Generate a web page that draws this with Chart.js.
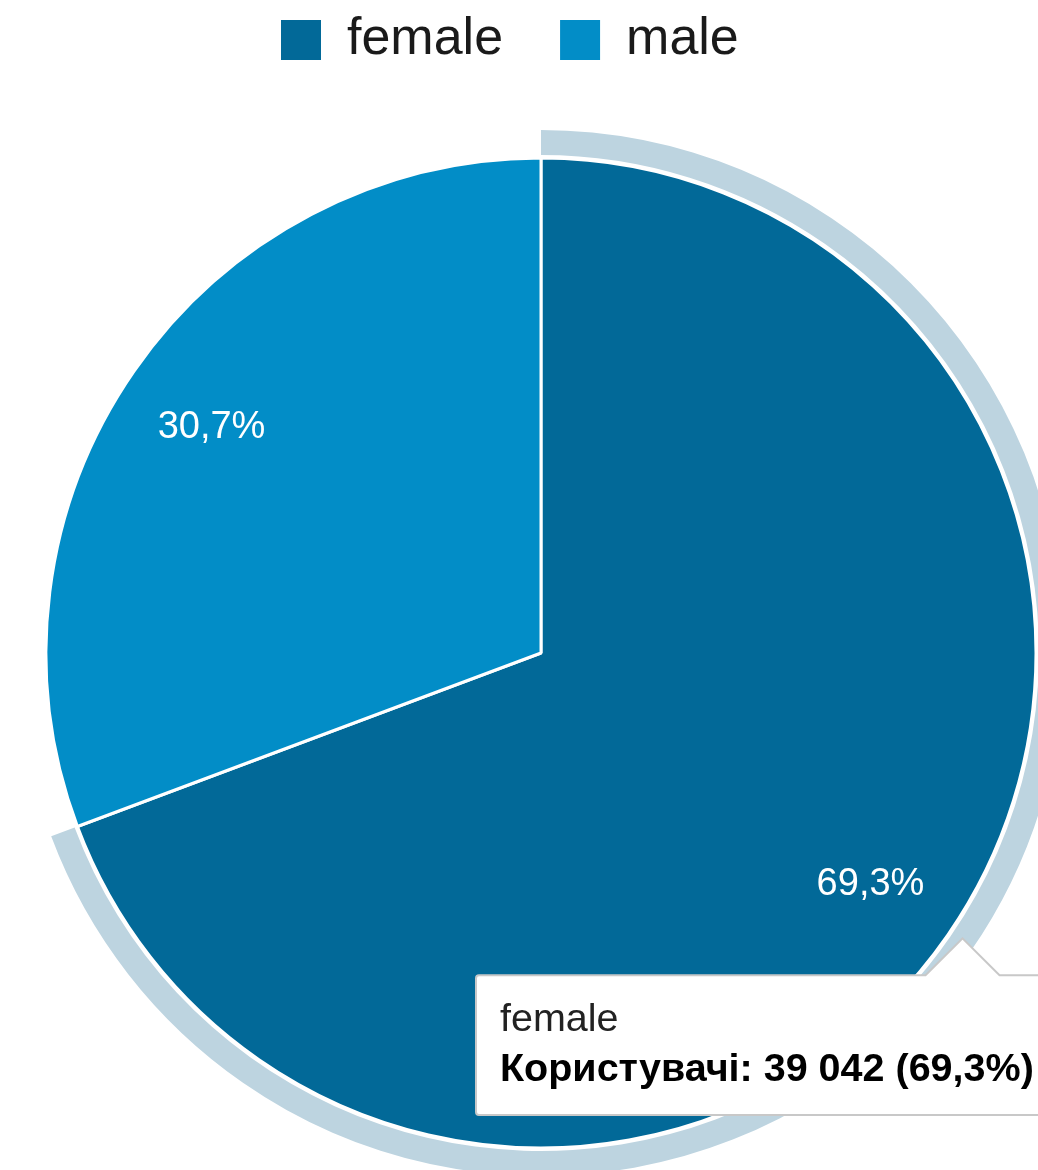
<!DOCTYPE html>
<html>
<head>
<meta charset="utf-8">
<script src="https://cdn.jsdelivr.net/npm/chart.js@4/dist/chart.umd.min.js"></script>
<style>
  html, body { margin: 0; padding: 0; background: #fff; overflow: hidden; }
  #wrap { position: absolute; left: 0; top: -43px; width: 1500px; height: 1300px; }
</style>
</head>
<body>
<div id="wrap"><canvas id="genderchart"></canvas></div>
<script>
// Data
const labels = ['female', 'male'];
const users = [39042, 17296];
const sliceColors = ['#026998', '#028dc7'];
const ringColor = '#bdd4e0';
const metricName = 'Користувачі';
const activeIndex = 0; // highlighted slice (female)

const total = users.reduce((a, b) => a + b, 0);

// 39042 -> "39 042"
function fmtNumber(n) {
    return String(n).replace(/\B(?=(\d{3})+(?!\d))/g, ' ');
}
// 0.693 -> "69,3%"
function fmtPercent(v) {
    return (v / total * 100).toFixed(1).replace('.', ',') + '%';
}

const tipFont = 'Arial';
const tipSize = 39.5;
const bodyText = metricName + ': ' + fmtNumber(users[activeIndex]) + ' (' + fmtPercent(users[activeIndex]) + ')';

// measure the body line so the tooltip box can be stretched off to the right
const mctx = document.createElement('canvas').getContext('2d');
mctx.font = 'bold ' + tipSize + 'px ' + tipFont;
const bodyWidth = mctx.measureText(bodyText).width;

const tipAngle = 0.595;   // where the caret touches the ring (radians from 3 o'clock)
const boxLeft = 476;      // left edge of tooltip box
const padLeft = 24;

// caret points at the hovered slice edge
Chart.Tooltip.positioners.callout = function(elements) {
    if (!elements.length) return false;
    const arc = elements[0].element;
    const r = arc.outerRadius + 14;
    return {
        x: arc.x + Math.cos(tipAngle) * r,
        y: arc.y + Math.sin(tipAngle) * r,
        xAlign: 'center',
        yAlign: 'top'
    };
};

// percentage labels inside slices
const sliceLabels = {
    id: 'sliceLabels',
    afterDatasetsDraw(chart) {
        const meta = chart.getDatasetMeta(2);
        const ctx = chart.ctx;
        ctx.save();
        ctx.fillStyle = '#ffffff';
        ctx.font = '38px Arial';
        ctx.textAlign = 'center';
        ctx.textBaseline = 'middle';
        meta.data.forEach((arc, i) => {
            const mid = (arc.startAngle + arc.endAngle) / 2;
            const r = arc.outerRadius * 0.81;
            ctx.fillText(fmtPercent(users[i]), arc.x + Math.cos(mid) * r, arc.y + Math.sin(mid) * r + 3);
        });
        ctx.restore();
    }
};

const ctx = document.getElementById('genderchart').getContext('2d');
const chart = new Chart(ctx, {
    type: 'pie',
    data: {
        labels: labels,
        datasets: [
            {   // highlight ring around hovered slice
                data: users,
                backgroundColor: users.map((v, i) => i === activeIndex ? ringColor : 'rgba(0,0,0,0)'),
                borderWidth: 0,
                weight: 25
            },
            {   // white gap
                data: users,
                backgroundColor: 'rgba(0,0,0,0)',
                borderWidth: 0,
                weight: 3
            },
            {
                data: users,
                backgroundColor: sliceColors,
                hoverBackgroundColor: sliceColors,
                borderColor: '#ffffff',
                hoverBorderColor: '#ffffff',
                borderWidth: 3,
                weight: 495
            }
        ]
    },
    options: {
        responsive: true,
        maintainAspectRatio: false,
        animation: false,
        events: [],
        radius: 523,
        hoverOffset: 0,
        layout: {
            padding: { left: 224, right: 642, top: 0, bottom: 27 }
        },
        plugins: {
            legend: {
                position: 'top',
                align: 'start',
                labels: {
                    boxWidth: 40,
                    boxHeight: 40,
                    padding: 57,
                    color: '#1a1a1a',
                    font: { family: 'Arial', size: 52 },
                    generateLabels: () => labels.map((t, i) => ({
                        text: t,
                        fillStyle: sliceColors[i],
                        strokeStyle: sliceColors[i],
                        lineWidth: 0,
                        fontColor: '#1a1a1a',
                        hidden: false,
                        index: i
                    }))
                }
            },
            tooltip: {
                enabled: true,
                position: 'callout',
                displayColors: false,
                backgroundColor: '#ffffff',
                borderColor: '#c8c8c8',
                borderWidth: 2,
                cornerRadius: 3,
                caretSize: 37,
                caretPadding: 0,
                titleColor: '#222222',
                bodyColor: '#000000',
                titleFont: { family: tipFont, size: tipSize, weight: 'normal' },
                bodyFont: { family: tipFont, size: tipSize, weight: 'bold' },
                titleMarginBottom: 3,
                padding: { top: 21, bottom: 21, left: padLeft, right: 100 },
                callbacks: {
                    title: items => labels[items[0].dataIndex],
                    label: item => metricName + ': ' + fmtNumber(users[item.dataIndex]) + ' (' + fmtPercent(users[item.dataIndex]) + ')'
                }
            }
        }
    },
    plugins: [sliceLabels]
});

// stretch the box so that its left edge sits at boxLeft while the caret stays centred
const arc = chart.getDatasetMeta(2).data[activeIndex];
const tipX = arc.x + Math.cos(tipAngle) * (arc.outerRadius + 14);
chart.options.plugins.tooltip.padding.right = Math.max(2 * (tipX - boxLeft) - padLeft - bodyWidth, 10);

chart.tooltip.setActiveElements([{ datasetIndex: 2, index: activeIndex }], { x: tipX, y: arc.y });
chart.update();
</script>
</body>
</html>
